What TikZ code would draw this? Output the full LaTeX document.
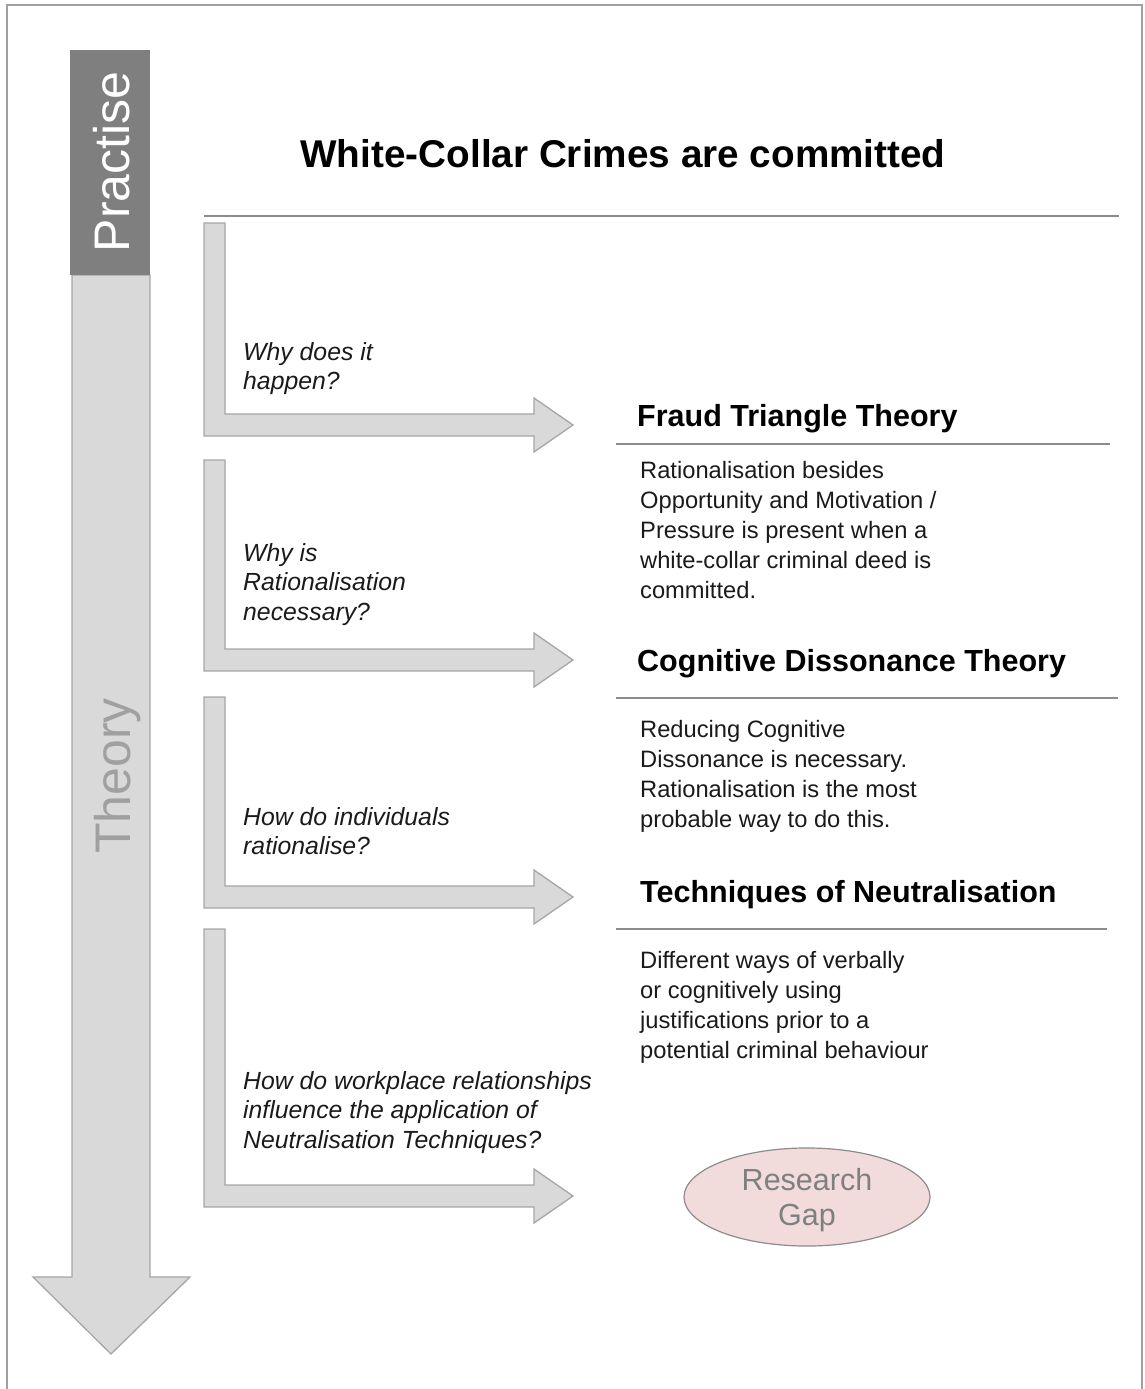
\documentclass[tikz,border=0pt]{standalone}
\usepackage{fontspec}
\setmainfont{Liberation Sans}
\usetikzlibrary{shapes.geometric}

\definecolor{panel}{HTML}{D9D9D9}
\definecolor{panelline}{HTML}{A6A6A6}
\definecolor{darkpanel}{HTML}{7F7F7F}
\definecolor{rulegrey}{HTML}{8C8C8C}
\definecolor{framegrey}{HTML}{A0A0A0}
\definecolor{gapfill}{HTML}{F2DCDB}
\definecolor{gaptext}{HTML}{7F7F7F}
\definecolor{theorytext}{HTML}{A0A0A0}
\definecolor{bodytext}{HTML}{1A1A1A}

% multi-line nodes are placed by the baseline of their last line
\tikzset{
  bendarrow/.style={fill=panel, draw=panelline, line width=1.3pt, line join=miter},
  sepline/.style={draw=rulegrey, line width=1.2pt},
  question/.style={anchor=base west, inner sep=0pt, align=left, text=bodytext,
    font=\fontsize{24.8}{29.5}\selectfont\itshape},
  heading/.style={anchor=base west, inner sep=0pt, text=black,
    font=\fontsize{30.5}{35}\selectfont\bfseries},
  body/.style={anchor=base west, inner sep=0pt, align=left, text=bodytext,
    font=\fontsize{23.7}{30}\selectfont},
  sidelabel/.style={anchor=base, inner sep=0pt, rotate=90,
    font=\fontsize{50}{50}\selectfont},
}

% L-shaped arrow: #1 top of the vertical bar, #2 top of the horizontal bar
\newcommand\lbendarrow[2]{%
  \draw[bendarrow] (204,#1) -- (225,#1) -- (225,#2) -- (534,#2) -- (534,#2-16)
    -- (573,#2+11) -- (534,#2+38) -- (534,#2+22) -- (204,#2+22) -- cycle;}

\begin{document}
\begin{tikzpicture}[x=1pt, y=-1pt]
\useasboundingbox (0,0) rectangle (1144,1389);

% outer frame
\draw[draw=framegrey, line width=1.6pt] (7,1389) -- (7,5) -- (1142,5) -- (1142,1389);

% practice-to-theory arrow
\draw[fill=panel, draw=panelline, line width=1.3pt]
  (72,275) -- (150,275) -- (150,1277) -- (190,1277) -- (111,1354)
  -- (33,1277) -- (72,1277) -- cycle;
\fill[darkpanel] (70,50) rectangle (150,275);
\node[sidelabel, text=white] (practise) at (129,162) {Practise};
\node[sidelabel, text=theorytext] (theory) at (130,776) {Theory};

% title
\node[anchor=base, inner sep=0pt, font=\fontsize{38.7}{44}\selectfont\bfseries]
  (title) at (623,167) {White-Collar Crimes are committed};
\draw[sepline] (204,216) -- (1119,216);

% bent arrows
\lbendarrow{223}{414}
\lbendarrow{460}{649}
\lbendarrow{697}{886}
\lbendarrow{929}{1185}

% questions
\node[question] (q1) at (243,389.5) {Why does it\\happen?};
\node[question] (q2) at (243,620) {Why is\\Rationalisation\\necessary?};
\node[question] (q3) at (243,854.5) {How do individuals\\rationalise?};
\node[question] (q4) at (243,1148) {How do workplace relationships\\influence the application of\\Neutralisation Techniques?};

% theories
\node[heading] (fraud) at (637,426) {Fraud Triangle Theory};
\draw[sepline] (616,444) -- (1110,444);
\node[body] (fraudtext) at (640,598) {Rationalisation besides\\Opportunity and Motivation /\\Pressure is present when a\\white-collar criminal deed is\\committed.};

\node[heading] (dissonance) at (637,671) {Cognitive Dissonance Theory};
\draw[sepline] (616,698) -- (1118,698);
\node[body] (dissonancetext) at (640,827) {Reducing Cognitive\\Dissonance is necessary.\\Rationalisation is the most\\probable way to do this.};

\node[heading] (neutral) at (640,902) {Techniques of Neutralisation};
\draw[sepline] (616,929) -- (1107,929);
\node[body] (neutraltext) at (640,1058) {Different ways of verbally\\or cognitively using\\justifications prior to a\\potential criminal behaviour};

% research gap
\node[ellipse, fill=gapfill, draw=rulegrey, line width=1.2pt, minimum width=246pt,
  minimum height=96pt, inner sep=0pt, align=center, text=gaptext,
  font=\fontsize{30.5}{35}\selectfont] (gap) at (807,1197) {\rule{0pt}{28pt}Research\\Gap};
\end{tikzpicture}
\end{document}
